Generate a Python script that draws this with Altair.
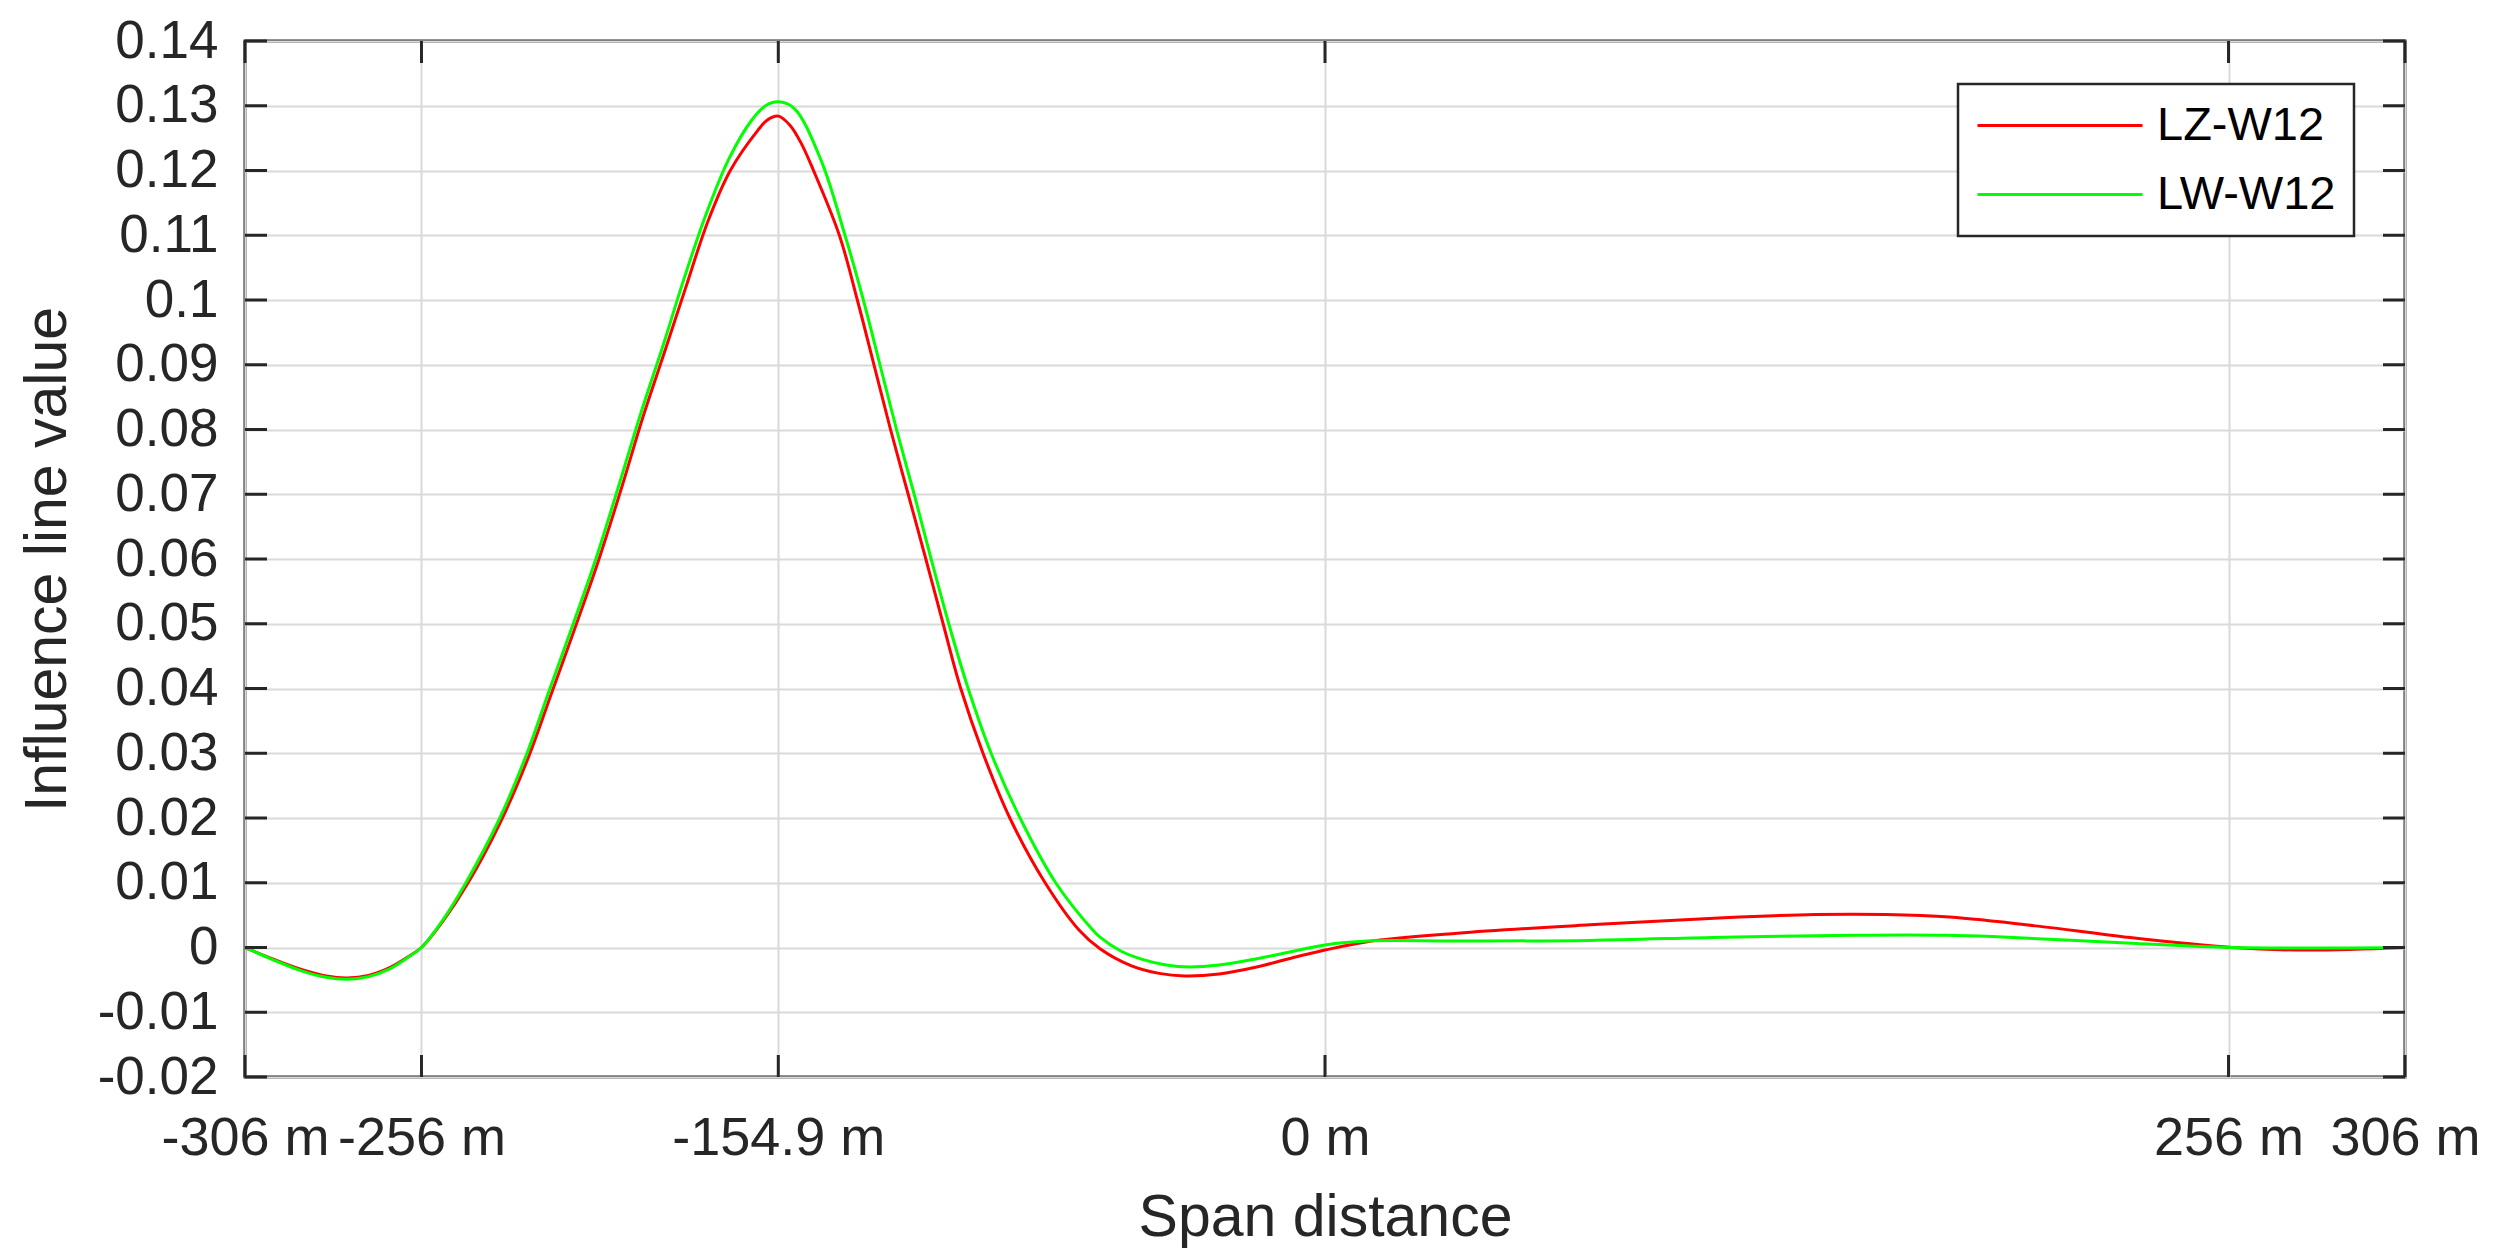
import altair as alt
import pandas as pd

# ---- data ----
series = ["LZ-W12", "LW-W12"]
colors = ["#ff0000", "#00ff00"]

lz_x = [-306, -298, -290, -283, -277, -271, -265, -260, -256, -250, -243, -233.5,
        -225.6, -219, -212.4, -206, -199.3, -193.2, -186.8, -181.2, -174.8, -168.5,
        -160.7, -158, -154.9, -151.6, -148.5, -145, -137.6, -132.5, -127.8, -123.1,
        -118.1, -113.1, -108.2, -103.2, -96.9, -89.3, -79.3, -69.7, -63.75, -55, -47,
        -39.7, -30, -20, -10, 0, 12, 37.5, 75, 113, 139, 159, 177, 202, 227, 257,
        278, 306]
lz_y = [0, -0.0018, -0.0034, -0.0044, -0.0047, -0.0043, -0.0031, -0.0015, 0, 0.0040,
        0.0098, 0.0195, 0.0295, 0.0395, 0.0495, 0.0595, 0.071, 0.082, 0.0925, 0.1018,
        0.1122, 0.1200, 0.1262, 0.1278, 0.1284, 0.1270, 0.1243, 0.1201, 0.11, 0.10,
        0.09, 0.08, 0.07, 0.06, 0.05, 0.04, 0.03, 0.02, 0.01, 0.0027, -0.0002,
        -0.0028, -0.0040, -0.0044, -0.0041, -0.0031, -0.0017, -0.0004, 0.0009,
        0.0022, 0.0035, 0.0046, 0.0051, 0.0051, 0.0047, 0.0033, 0.0016, 0, -0.0004, 0]

lw_x = [-306, -298, -290, -283, -277, -271, -265, -260, -256, -250, -243.4, -233.8,
        -226.1, -219.6, -213, -206.6, -200, -193.8, -187.3, -181.9, -175.4, -168.9,
        -162.4, -158.5, -154.9, -150.4, -142.8, -136, -130.8, -126.1, -121.4, -116.4,
        -111.6, -106.6, -101.1, -94.6, -86.4, -76.3, -65.8, -63.75, -58, -52, -45,
        -38.5, -30, -20, -10, 0, 12, 37.5, 75, 113, 150, 176, 189, 227, 257, 306]
lw_y = [0, -0.0019, -0.0036, -0.0046, -0.0049, -0.0045, -0.0033, -0.0016, 0, 0.0042,
        0.01, 0.02, 0.03, 0.04, 0.05, 0.06, 0.0715, 0.0826, 0.0934, 0.1028, 0.1132,
        0.1218, 0.1278, 0.1300, 0.1306, 0.1296, 0.1216, 0.11, 0.10, 0.09, 0.08, 0.07,
        0.06, 0.05, 0.04, 0.03, 0.02, 0.01, 0.0027, 0.0016, -0.0005, -0.0018,
        -0.0027, -0.0030, -0.0027, -0.0018, -0.0007, 0.0004, 0.001, 0.001, 0.0011,
        0.0016, 0.0019, 0.0019, 0.0017, 0.0007, 0, 0]

x_ticks = [-306, -256, -154.9, 0, 256, 306]
y_ticks = [-0.02, -0.01, 0, 0.01, 0.02, 0.03, 0.04, 0.05, 0.06, 0.07, 0.08,
           0.09, 0.1, 0.11, 0.12, 0.13, 0.14]

# ---- styling ----
W, H = 2160, 1036
FONT = "Liberation Sans"
INK = "#262626"
GRID = "#d9d9d9"
TICK = 22

lz = pd.DataFrame({"x": lz_x, "y": lz_y, "s": series[0]})
lw = pd.DataFrame({"x": lw_x, "y": lw_y, "s": series[1]})
xt = pd.DataFrame({"x": x_ticks})
yt = pd.DataFrame({"y": y_ticks})

xscale = alt.Scale(domain=[-306, 306], nice=False, zero=False)
yscale = alt.Scale(domain=[-0.02, 0.14], nice=False, zero=False)

xaxis = alt.Axis(
    values=x_ticks, labelExpr="datum.value + ' m'", title="Span distance",
    grid=True, gridColor=GRID, gridWidth=2, ticks=False, domain=False,
    labelFont=FONT, labelFontSize=54, labelColor=INK, labelPadding=77,
    labelBaseline="alphabetic", labelFlush=False, labelOverlap=False, labelLimit=600,
    titleFont=FONT, titleFontSize=59, titleColor=INK, titleFontWeight="normal",
    titleX=W / 2, titleY=158, titleBaseline="alphabetic", titleAnchor="middle",
    titleLimit=2000,
)
yaxis = alt.Axis(
    values=y_ticks, labelExpr="'' + datum.value", title="Influence line value",
    grid=True, gridColor=GRID, gridWidth=2, ticks=False, domain=False,
    labelFont=FONT, labelFontSize=53, labelColor=INK, labelPadding=27,
    labelOverlap=False, labelFlush=False, labelLimit=600,
    titleFont=FONT, titleFontSize=59, titleColor=INK, titleFontWeight="normal",
    titleX=-180, titleY=H / 2, titleBaseline="alphabetic", titleAnchor="middle",
    titleLimit=2000,
)

legend = alt.Legend(
    title=None, orient="none", legendX=1713, legendY=43,
    symbolType="stroke", symbolSize=27225, symbolStrokeWidth=3, clipHeight=47,
    labelFont=FONT, labelFontSize=47, labelColor="#000000", labelOffset=13,
    labelLimit=600, rowPadding=21, padding=18, strokeColor=INK, fillColor="white",
)
color = alt.Color("s:N", scale=alt.Scale(domain=series, range=colors), legend=legend)

X = alt.X("x:Q", scale=xscale, axis=xaxis)
Y = alt.Y("y:Q", scale=yscale, axis=yaxis)

red = alt.Chart(lz).mark_line(strokeWidth=3, interpolate="catmull-rom").encode(
    x=X, y=Y, color=color)
green = alt.Chart(lw).mark_line(strokeWidth=3, interpolate="catmull-rom").encode(
    x=X, y=Y, color=color)

tick_style = dict(color=INK, strokeWidth=3)
y_left = alt.Chart(yt).mark_rule(**tick_style).encode(
    y=Y, x=alt.value(0), x2=alt.value(TICK))
y_right = alt.Chart(yt).mark_rule(**tick_style).encode(
    y=Y, x=alt.value(W - TICK), x2=alt.value(W))
x_bottom = alt.Chart(xt).mark_rule(**tick_style).encode(
    x=X, y=alt.value(H - TICK), y2=alt.value(H))
x_top = alt.Chart(xt).mark_rule(**tick_style).encode(
    x=X, y=alt.value(0), y2=alt.value(TICK))

chart = alt.layer(red, green, y_left, y_right, x_bottom, x_top).properties(
    width=W, height=H,
    padding={"left": 237, "top": 33, "right": 80, "bottom": 190},
    autosize=alt.AutoSizeParams(type="none"),
    background="white",
).configure_view(
    stroke=INK, strokeWidth=3
).configure_legend(
    strokeWidth=2.5
)

chart.save("out.html", embed_options={"renderer": "svg", "actions": False})
